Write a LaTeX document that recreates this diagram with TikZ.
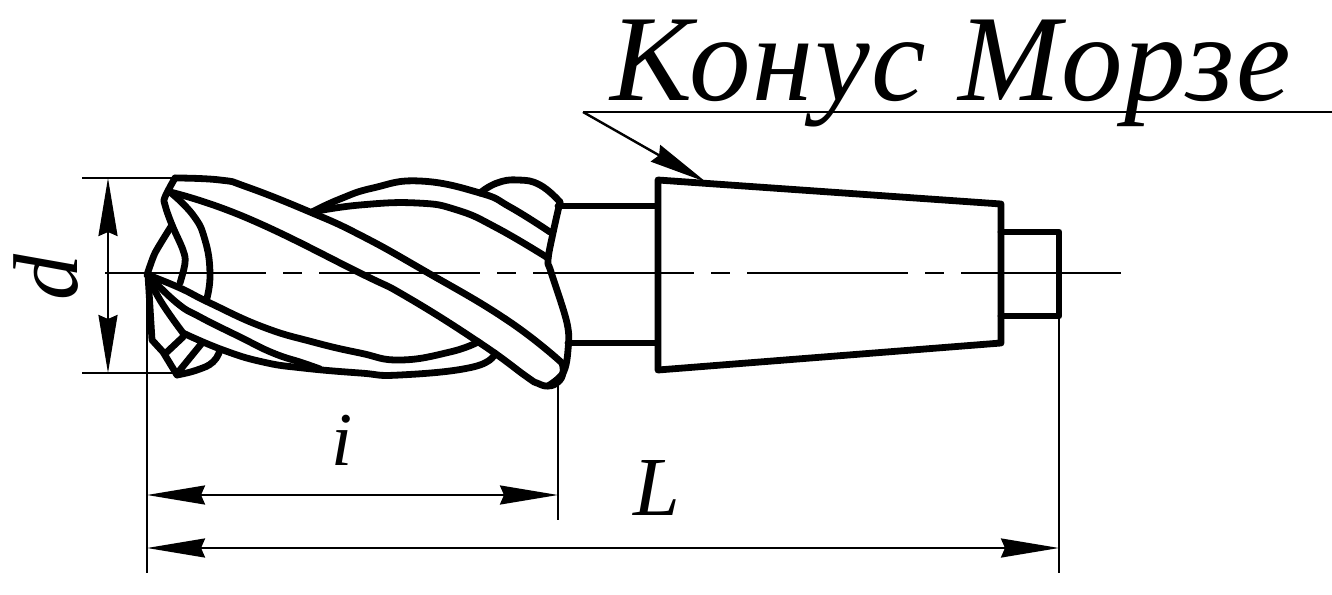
\documentclass[tikz,border=0pt]{standalone}
\usepackage{fontspec}
\setmainfont{Liberation Serif}
\usetikzlibrary{arrows.meta}
\tikzset{
 thickl/.style={line width=6.8pt,line join=round,line cap=round},
 thinl/.style={line width=2.4pt},
 tip/.tip={Stealth[length=58pt,width=19pt,inset=4pt]},
 dimarrow/.style={line width=2.4pt,tip-tip},
 lbl/.style={font=\itshape\fontsize{#1}{#1}\selectfont,inner sep=0pt},
 sm/.style={smooth,tension=0.8},
}
\begin{document}
\begin{tikzpicture}[x=1pt,y=-1pt]
\useasboundingbox (0,0) rectangle (1332,594);
% centre line
\draw[thinl,dash pattern=on 161pt off 17pt on 19pt off 17pt] (105,273) -- (1121,273);
% extension lines
\coordinate (dt1) at (82,178); \coordinate (dt2) at (176,178);
\coordinate (db1) at (82,373); \coordinate (db2) at (178,373);
\draw[thinl] (dt1)--(dt2); \draw[thinl] (db1)--(db2);
\coordinate (lv1) at (147,275); \coordinate (lv2) at (147,573);
\draw[thinl] (lv1)--(lv2);
\coordinate (iv1) at (558,385); \coordinate (iv2) at (558,520);
\draw[thinl] (iv1)--(iv2);
\coordinate (Lv1) at (1059,316); \coordinate (Lv2) at (1059,573);
\draw[thinl] (Lv1)--(Lv2);
% dims
\coordinate (da) at (108,178); \coordinate (db) at (108,373);
\draw[dimarrow] (da)--(db);
\coordinate (ia) at (147,495); \coordinate (ib) at (558,495);
\draw[dimarrow] (ia)--(ib);
\coordinate (La) at (147,548); \coordinate (Lb) at (1059,548);
\draw[dimarrow] (La)--(Lb);
% leader
\coordinate (lr) at (1332,112); \coordinate (lk) at (583,112); \coordinate (lt) at (706,182);
\draw[thinl] (lr)--(lk);
\draw[thinl,-tip] (lk)--(lt);
% labels
\node[lbl=92,rotate=90] (dlab) at (46,277) {d};
\node[lbl=76] (ilab) at (342,440) {i};
\node[lbl=84] (Llab) at (657,488) {L};
\node[inner sep=0pt,anchor=base west,font=\itshape\fontsize{123}{123}\selectfont\addfontfeature{LetterSpace=1.5}] (title) at (610,100) {Конус Морзе};
% tail
\draw[thickl] (658,180) -- (658,370) -- (1001,343) -- (1001,204) -- cycle;
\draw[thickl] (1001,232) -- (1059,232) -- (1059,316) -- (1001,316);
\draw[thickl] (558,206) -- (657,206);
\draw[thickl] (568,343) -- (657,343);
% flute band 1
\draw[thickl] plot[sm] coordinates {(175,178)(220,180)(247,187)(310,212)(360,235)(423,270)(507,320)(562,363)};
\draw[thickl] plot[sm] coordinates {(170,192)(247,218)(360,273)(407,297)(480,343)(527,377)(537,383)(548,386)(558,382)(563,373)(562,363)};
% face
\draw[thickl] plot[smooth,tension=0.6] coordinates {(175,178)(165,197)(165,205)(172,225)(183,250)(185,263)(180,283)};
\draw[thickl] plot[smooth,tension=0.4] coordinates {(172,225)(155,253)(147,275)};
\draw[thickl] plot[sm] coordinates {(170,192)(193,215)(205,240)(210,273)(207,298)};
% lower bands
\draw[thickl] plot[sm] coordinates {(148,275)(180,288)(210,303)(263,327)(313,342)(360,353)(400,360)(450,352)(478,342)};
\draw[thickl] plot[sm] coordinates {(148,275)(177,303)(200,317)(240,337)(273,353)(303,363)(320,369)};
\draw[thickl] plot[sm] coordinates {(148,275)(160,300)(183,333)};
\draw[thickl] plot[sm] coordinates {(183,333)(223,350)(263,362)(303,368)(360,373)(400,375)(473,367)(495,353)};
\draw[thickl] (148,275) -- (152,340) -- (163,352) -- (177,375);
\draw[thickl] plot[sm] coordinates {(177,375)(197,370)(213,362)(220,350)};
\draw[thickl] (183,337) -- (167,352);
\draw[thickl] (202,343) -- (180,370);
% upper rear band
\draw[thickl] plot[sm] coordinates {(312,212)(340,199)(373,188)(420,181)(480,193)(510,207)(550,232)};
\draw[thickl] plot[sm] coordinates {(480,193)(497,183)(518,180)(540,185)(560,202)};
\draw[thickl] plot[sm] coordinates {(312,212)(360,205)(417,203)(457,210)(497,228)(548,258)};
% shank end
\draw[thickl] plot[smooth,tension=0.6] coordinates {(560,202)(553,233)(548,260)(551,272)(567,323)(568,350)(563,373)(548,386)};
\end{tikzpicture}
\end{document}
